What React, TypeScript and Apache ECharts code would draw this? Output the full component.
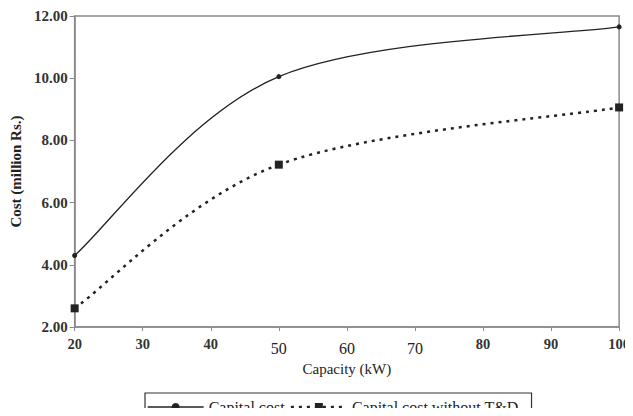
import React, { useEffect, useRef } from "react";
import * as echarts from "echarts";

const capacities = [20, 50, 100];
const capitalCost = [4.3, 10.05, 11.65];
const capitalCostWithoutTD = [2.6, 7.22, 9.06];
const seriesNames = ["Capital cost", "Capital cost without T&D"];
const lighterTicks = [50, 60, 70];

type Pt = number[];

// Excel-like (Catmull-Rom, tension 1/6) bezier segments through pixel points
function bezierSegments(pts: Pt[]) {
  const segs: any[] = [];
  for (let i = 0; i < pts.length - 1; i++) {
    const p0 = pts[Math.max(0, i - 1)];
    const p1 = pts[i];
    const p2 = pts[i + 1];
    const p3 = pts[Math.min(pts.length - 1, i + 2)];
    segs.push({
      x1: p1[0],
      y1: p1[1],
      cpx1: p1[0] + (p2[0] - p0[0]) / 6,
      cpy1: p1[1] + (p2[1] - p0[1]) / 6,
      cpx2: p2[0] - (p3[0] - p1[0]) / 6,
      cpy2: p2[1] - (p3[1] - p1[1]) / 6,
      x2: p2[0],
      y2: p2[1],
    });
  }
  return segs;
}

export default function App() {
  const ref = useRef<HTMLDivElement>(null);
  useEffect(() => {
    if (!ref.current) return;
    const chart = echarts.init(ref.current, undefined, { renderer: "svg" });
    const serif = "Liberation Serif";
    const solid = { color: "#222", width: 1.3, type: "solid" as const };
    const dashed = { color: "#222", width: 2.5, type: [3, 5] as any };
    chart.setOption({
      animation: false,
      backgroundColor: "#fff",
      textStyle: { fontFamily: serif },
      grid: {
        left: 68,
        right: 11,
        top: 16,
        bottom: 89,
        show: true,
        borderColor: "#8a8a8a",
        borderWidth: 1.5,
        containLabel: false,
      },
      xAxis: {
        type: "value",
        min: 20,
        max: 100,
        interval: 10,
        name: "Capacity (kW)",
        nameLocation: "middle",
        nameGap: 34,
        nameTextStyle: { fontFamily: serif, fontSize: 15, color: "#222" },
        axisLine: { show: true, lineStyle: { color: "#8a8a8a", width: 1.5 } },
        axisTick: { show: true, length: 4, lineStyle: { color: "#8a8a8a" } },
        splitLine: { show: false },
        axisLabel: {
          fontFamily: serif,
          color: "#222",
          margin: 9,
          formatter: (v: number) =>
            lighterTicks.includes(v) ? `{n|${v}}` : `{b|${v}}`,
          rich: {
            b: { fontFamily: serif, fontSize: 14.5, fontWeight: "bold", color: "#333" },
            n: { fontFamily: serif, fontSize: 16, color: "#222", padding: [4, 0, 0, 0] },
          },
        },
      },
      yAxis: {
        type: "value",
        min: 2,
        max: 12,
        interval: 2,
        name: "Cost (million Rs.)",
        nameLocation: "middle",
        nameGap: 50,
        nameTextStyle: { fontFamily: serif, fontSize: 15, fontWeight: "bold", color: "#222" },
        axisLine: { show: true, lineStyle: { color: "#8a8a8a", width: 1.5 } },
        axisTick: { show: true, length: 5, lineStyle: { color: "#8a8a8a" } },
        splitLine: { show: false },
        axisLabel: {
          fontFamily: serif,
          fontSize: 15,
          fontWeight: "bold",
          color: "#333",
          margin: 7,
          formatter: (v: number) => v.toFixed(2),
        },
      },
      legend: {
        left: 145,
        top: 393,
        padding: [6, 13, 8, 2],
        borderColor: "#333",
        borderWidth: 1.2,
        itemGap: 5,
        itemWidth: 56,
        itemHeight: 10,
        textStyle: { fontFamily: serif, fontSize: 16, color: "#222" },
        data: [
          { name: seriesNames[0], lineStyle: { ...solid, opacity: 1 } },
          { name: seriesNames[1], lineStyle: { ...dashed, opacity: 1 } },
        ],
      },
      series: [
        {
          name: seriesNames[0],
          type: "line",
          data: capacities.map((c, i) => [c, capitalCost[i]]),
          symbol: "circle",
          symbolSize: 5,
          z: 5,
          lineStyle: { ...solid, opacity: 0 },
          itemStyle: { color: "#222" },
        },
        {
          name: seriesNames[1],
          type: "line",
          data: capacities.map((c, i) => [c, capitalCostWithoutTD[i]]),
          symbol: "rect",
          symbolSize: 8,
          z: 5,
          lineStyle: { ...dashed, opacity: 0 },
          itemStyle: { color: "#222" },
        },
      ],
    });

    const toPx = (ys: number[]) =>
      capacities.map((c, i) => chart.convertToPixel({ gridIndex: 0 }, [c, ys[i]]) as number[]);
    const curves: any[] = [];
    bezierSegments(toPx(capitalCost)).forEach((shape) =>
      curves.push({
        type: "bezierCurve",
        shape,
        z: 3,
        silent: true,
        style: { stroke: "#222", lineWidth: 1.3, fill: null },
      })
    );
    bezierSegments(toPx(capitalCostWithoutTD)).forEach((shape) =>
      curves.push({
        type: "bezierCurve",
        shape,
        z: 3,
        silent: true,
        style: { stroke: "#222", lineWidth: 2.5, lineDash: [3, 5], fill: null },
      })
    );
    chart.setOption({ graphic: curves });
    return () => chart.dispose();
  }, []);
  return <div ref={ref} style={{ width: 633, height: 416, margin: -8 }} />;
}
